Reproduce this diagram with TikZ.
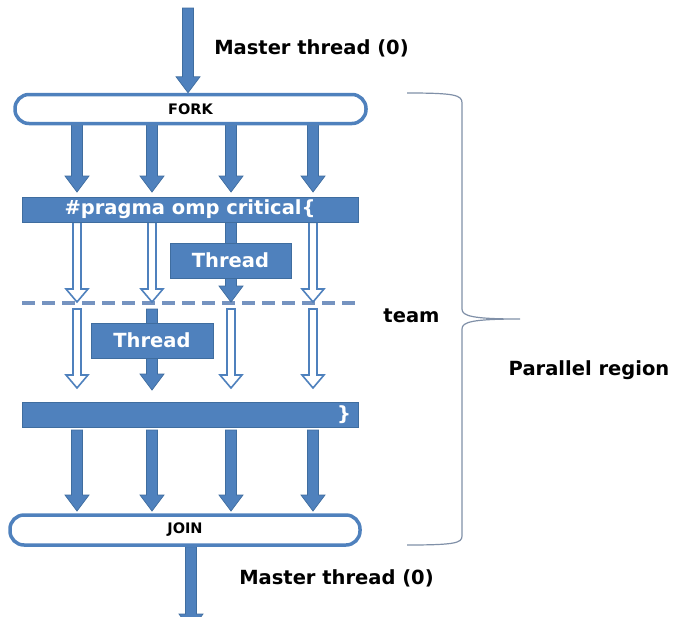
\documentclass[tikz,border=0pt]{standalone}
\usepackage{fontspec}
\setmainfont{DejaVu Sans}
\usetikzlibrary{calc,backgrounds,arrows.meta}

\definecolor{ompblue}{HTML}{4F81BD}
\definecolor{ompedge}{HTML}{3F6D9F}
\definecolor{ompdash}{HTML}{7593C0}
\definecolor{ompbrace}{HTML}{8090A8}

\tikzset{
  lbl/.style={font=\bfseries\fontsize{19.5}{22}\selectfont},
  capsule/.style={draw=ompblue,fill=white,line width=3.5pt,rounded corners=14pt,
    font=\bfseries\fontsize{14.5}{16}\selectfont},
  bar/.style={draw=ompedge,fill=ompblue,line width=0.8pt,text=white,inner sep=0pt,
    font=\bfseries\fontsize{19.5}{22}\selectfont},
  fatarrow/.style={fill=ompblue,draw=ompedge,line width=0.7pt,
    to path={let \p1=(\tikztostart),\p2=(\tikztotarget) in
      (\x1-5.5pt,\y1) -- (\x1-5.5pt,\y2+16pt) -- (\x1-12pt,\y2+16pt) -- (\x1,\y2)
      -- (\x1+12pt,\y2+16pt) -- (\x1+5.5pt,\y2+16pt) -- (\x1+5.5pt,\y1) -- cycle}},
  hollowarrow/.style={fill=white,draw=ompblue,line width=1.6pt,
    to path={let \p1=(\tikztostart),\p2=(\tikztotarget) in
      (\x1-4pt,\y1) -- (\x1-4pt,\y2+13pt) -- (\x1-11pt,\y2+13pt) -- (\x1,\y2)
      -- (\x1+11pt,\y2+13pt) -- (\x1+4pt,\y2+13pt) -- (\x1+4pt,\y1) -- cycle}},
  dashline/.style={draw=ompdash,line width=3.5pt,dash pattern=on 13pt off 7pt}
}

\begin{document}
\begin{tikzpicture}[x=1pt,y=-1pt]
\useasboundingbox (0,0) rectangle (677,616);

% columns and rows
\coordinate (c1) at (77,0);
\coordinate (c2) at (152,0);
\coordinate (c3) at (231,0);
\coordinate (c4) at (313,0);
\coordinate (mtop) at (188,8);
\coordinate (mend) at (191,630);
\coordinate (ra) at (0,192);
\coordinate (rb) at (0,302);
\coordinate (rc0) at (0,309);
\coordinate (rc) at (0,388);
\coordinate (rd0) at (0,430);
\coordinate (rd) at (0,511);
\coordinate (dl) at (22,303);
\coordinate (dr) at (362,303);

%---------------------------------------------------
\node[capsule,minimum width=351pt,minimum height=29pt] (fork) at (190.5,109) {FORK};
\node[bar,minimum width=336pt,minimum height=25pt] (pragma) at (190,209.5) {\#pragma omp critical\{};
\node[bar,minimum width=121pt,minimum height=35pt] (threadA) at (230.5,260.5) {Thread};
\node[bar,minimum width=122pt,minimum height=35pt] (threadB) at (152,340.5) {Thread};
\node[bar,minimum width=336pt,minimum height=25pt,text width=322pt,align=right] (endbar) at (190,414.5) {\}};
\node[capsule,minimum width=350pt,minimum height=30pt] (join) at (185,530) {JOIN};

%---------------------------------------------------
\node[lbl] (mtin) at (311.5,48) {Master thread (0)};
\node[lbl] (mtout) at (336.5,578) {Master thread (0)};
\node[lbl] (team) at (411.5,316) {team};
\node[lbl] (parreg) at (589,370) {Parallel region};

\draw[ompbrace,line width=1.2pt] (407,93) .. controls (455,93) and (462,95) .. (462,103)
  -- (462,309) .. controls (462,316) and (472,319) .. (520,319)
  .. controls (472,319) and (462,322) .. (462,329)
  -- (462,536) .. controls (462,543) and (455,545) .. (407,545);

%---------------------------------------------------
\begin{pgfonlayer}{background}
\draw[dashline] (dl) -- (dr);

\draw[fatarrow] (mtop) to (fork.north -| mtop);
\draw[fatarrow] (join.south -| mend) to (mend);

\foreach \c in {c1,c2,c3,c4}{
  \draw[fatarrow] (fork.south -| \c) to (ra -| \c);
  \draw[fatarrow] (rd0 -| \c) to (rd -| \c);
}

\foreach \c in {c1,c2,c4}
  \draw[hollowarrow] (pragma.south -| \c) to (rb -| \c);
\draw[fatarrow] (pragma.south -| c3) to (rb -| c3);

\foreach \c in {c1,c3,c4}
  \draw[hollowarrow] (rc0 -| \c) to (rc -| \c);
\draw[fatarrow] (rc0 -| c2) to ([yshift=-2pt]rc -| c2);
\end{pgfonlayer}

\end{tikzpicture}
\end{document}
